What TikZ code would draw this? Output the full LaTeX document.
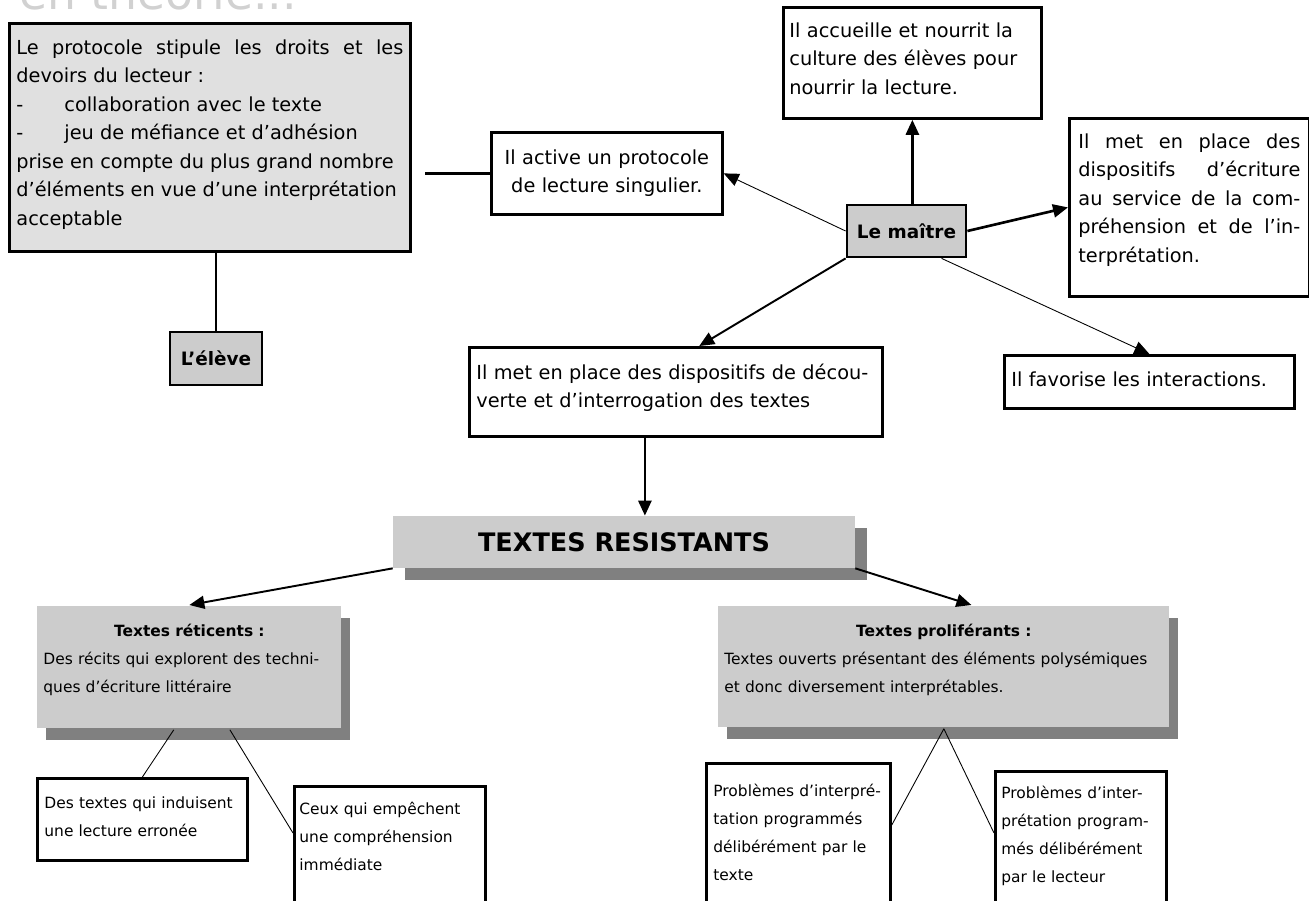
\documentclass[tikz,border=0pt]{standalone}
\usepackage{fontspec}
\setmainfont{DejaVu Sans}
\usetikzlibrary{arrows.meta,shadows}
\tolerance=10000
\hbadness=10000

\tikzset{
  boite/.style={draw, line width=1.6pt, fill=white, anchor=north west, inner ysep=0pt, font=\fontsize{11}{16.2}\selectfont},
  petite/.style={boite, font=\fontsize{8.8}{15.9}\selectfont},
  grise/.style={draw, line width=1.6pt, fill=black!20, font=\fontsize{10.5}{12}\selectfont\bfseries},
  ombre/.style={fill=black!20, drop shadow={shadow xshift=#1, shadow yshift=-0.24cm, fill=black!50, opacity=1}},
  ombre/.default=0.18cm,
  fleche/.style={-{Triangle[length=0.3cm,width=0.26cm]}},
}

\begin{document}
\begin{tikzpicture}[x=0.02cm, y=-0.02cm]
\useasboundingbox (0,0) rectangle (1309,900);
\clip (0,0) rectangle (1309,900);

\node[anchor=base west, text=black!18, font=\fontsize{26}{30}\selectfont] (titre) at (13,9.5) {en théorie...};

% l'eleve
\node[boite, fill=black!12, align=justify, inner xsep=0.14cm, text width=7.74cm, text height=0.62cm, text depth=3.94cm] (protocole) at (8,22) {Le protocole stipule les droits et les\linebreak devoirs du lecteur :\\ \makebox[0.96cm][l]{-}collaboration avec le texte\\ \makebox[0.96cm][l]{-}jeu de méfiance et d'adhésion\\ prise en compte du plus grand nombre\\ d'éléments en vue d'une interprétation\\ acceptable};
\node[grise, minimum width=1.84cm, minimum height=1.06cm] (eleve) at (216,358.5) {L'élève};
\draw[line width=1.6pt] (eleve.north) -- (eleve.north |- protocole.south);

% le maitre
\node[grise, minimum width=2.38cm, minimum height=1.04cm] (maitre) at (906.5,231) {Le maître};
\node[boite, align=center, inner xsep=0.16cm, text width=4.3cm, text height=0.64cm, text depth=1cm] (activ) at (490,131) {Il active un protocole\\ de lecture singulier.};
\node[boite, align=left, inner xsep=0.12cm, text width=4.92cm, text height=0.6cm, text depth=1.62cm] (accueil) at (782,6) {Il accueille et nourrit la\\ culture des élèves pour\\ nourrir la lecture.};
\node[boite, align=justify, inner xsep=0.18cm, text width=4.44cm, text height=0.6cm, text depth=2.96cm] (ecriture) at (1068,117) {Il met en place des\linebreak dispositifs d'écriture\linebreak au service de la com-\linebreak préhension et de l'in-\linebreak terprétation.};
\node[boite, align=left, inner xsep=0.14cm, text width=5.52cm, text height=0.62cm, text depth=0.44cm] (interact) at (1003,354) {Il favorise les interactions.};
\node[boite, align=left, inner xsep=0.14cm, text width=7.98cm, text height=0.64cm, text depth=1.14cm] (decouverte) at (468,346) {Il met en place des dispositifs de décou-\\ verte et d'interrogation des textes};

\draw[line width=1.6pt, shorten >=0.26cm] (activ.west) -- (activ.west -| protocole.east);
\draw[fleche, line width=1.5pt] (maitre.north -| accueil.south) -- (accueil.south);
\draw[fleche, line width=1.5pt] (maitre.east) -- (ecriture.west);
\draw[fleche, line width=0.5pt] (maitre.west) -- (activ.east);
\draw[fleche, line width=0.5pt] (maitre.-38) -- (interact.north);
\draw[fleche, line width=1.1pt] (maitre.south west) -- (decouverte.63);

% textes resistants
\node[ombre=0.24cm, minimum width=9.24cm, minimum height=1.04cm, font=\fontsize{14.5}{16}\selectfont\bfseries] (resist) at (624,542) {TEXTES RESISTANTS};
\draw[fleche, line width=1.5pt] (decouverte.-124) -- (decouverte.-124 |- resist.north);

\node[petite, draw=none, ombre, align=left, inner xsep=0.12cm, text width=5.84cm, text height=0.6cm, text depth=1.84cm] (reticent) at (36,605) {\makebox[\linewidth]{\bfseries Textes réticents :}\\ Des récits qui explorent des techni-\\ ques d'écriture littéraire};
\node[petite, draw=none, ombre, align=left, inner xsep=0.12cm, text width=8.78cm, text height=0.6cm, text depth=1.82cm] (prolif) at (717,605) {\makebox[\linewidth]{\bfseries Textes proliférants :}\\ Textes ouverts présentant des éléments polysémiques\\ et donc diversement interprétables.};
\draw[fleche, line width=1.1pt] (resist.south west) -- (reticent.north);
\draw[fleche, line width=1.1pt] (resist.south east) -- (prolif.66);

% cas particuliers
\node[petite, align=left, inner xsep=0.14cm, text width=3.92cm, text height=0.6cm, text depth=1.04cm] (induire) at (36,777) {Des textes qui induisent\\ une lecture erronée};
\node[petite, align=left, inner xsep=0.1cm, text width=3.62cm, text height=0.56cm, text depth=2.34cm] (empecher) at (293,785) {Ceux qui empêchent\\ une compréhension\\ immédiate};
\node[petite, align=left, inner xsep=0.14cm, text width=3.4cm, text height=0.66cm, text depth=2.7cm] (texte) at (705,762) {Problèmes d'interpré-\\ tation programmés\\ délibérément par le\\ texte};
\node[petite, align=left, inner xsep=0.12cm, text width=3.18cm, text height=0.54cm, text depth=2.66cm] (lecteur) at (994,770) {Problèmes d'inter-\\ prétation program-\\ més délibérément\\ par le lecteur};

\draw[line width=0.5pt] (reticent.-104) -- (induire.north);
\draw[line width=0.5pt] (reticent.-57) -- ([yshift=-0.96cm]empecher.north west);
\draw[line width=0.5pt] (prolif.south) -- ([yshift=-1.26cm]texte.north east);
\draw[line width=0.5pt] (prolif.south) -- ([yshift=-1.26cm]lecteur.north west);
\end{tikzpicture}
\end{document}
